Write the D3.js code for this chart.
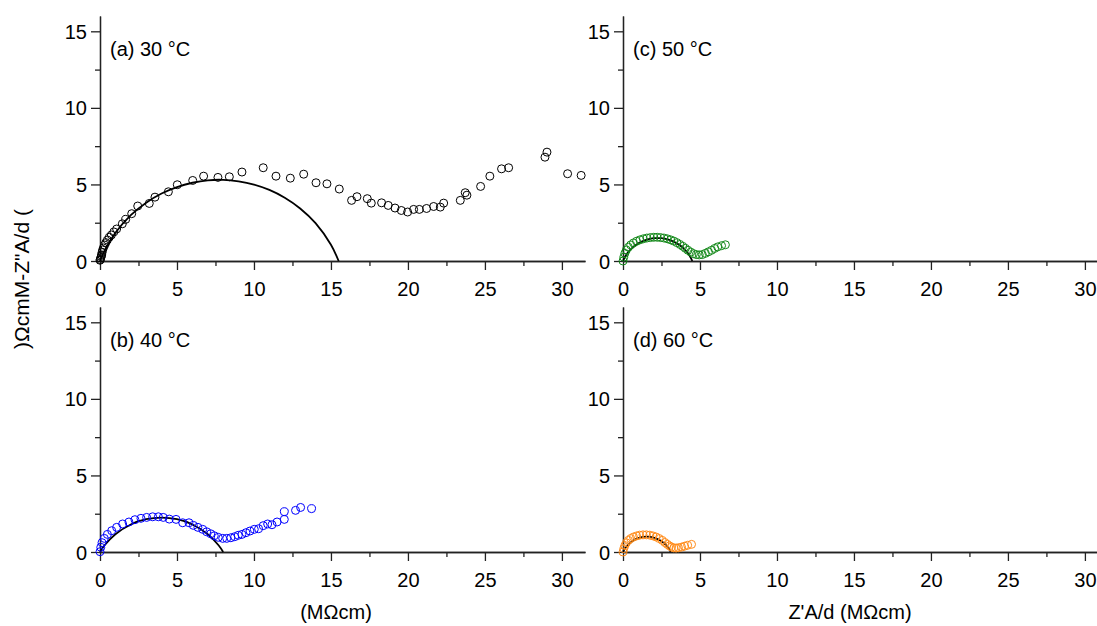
<!DOCTYPE html>
<html>
<head>
<meta charset="utf-8">
<script src="https://cdn.jsdelivr.net/npm/d3@7"></script>
<style>
  body { margin: 0; background: #fff; }
  text { font-family: "Liberation Sans", Arial, sans-serif; }
</style>
</head>
<body>
<svg id="chart" width="1097" height="626"></svg>
<script>
var data30 = [[0.0,0.05],[0.02,0.1],[0.05,0.2],[0.08,0.3],[0.11,0.39],[0.13,0.55],[0.17,0.72],[0.22,0.85],[0.3,1.04],[0.38,1.2],
  [0.48,1.37],[0.6,1.55],[0.74,1.7],[0.9,1.9],[1.08,2.09],[1.45,2.43],[1.67,2.72],[2.06,3.09],[2.45,3.59],[3.2,3.76],
  [3.57,4.17],[4.44,4.52],[5.02,4.98],[6.02,5.26],[6.73,5.54],[7.66,5.46],[8.4,5.5],[9.22,5.81],[10.6,6.09],[11.43,5.54],
  [12.36,5.41],[13.23,5.67],[14.03,5.11],[14.74,5.04],[15.54,4.7],[16.34,3.96],[16.69,4.2],[17.36,4.07],[17.62,3.78],
  [18.29,3.8],[18.72,3.63],[19.16,3.46],[19.57,3.3],[19.98,3.2],[20.37,3.37],[20.74,3.37],[21.21,3.43],[21.67,3.56],
  [22.1,3.52],[22.32,3.78],[23.4,3.96],[23.72,4.46],[23.83,4.3],[24.72,4.87],[25.32,5.54],[26.08,6.02],[26.54,6.09],
  [28.9,6.78],[29.03,7.11],[30.37,5.7],[31.25,5.59]];
var fit30 = [[0,0],[0.3,0.68],[1,1.84],[2,2.99],[3,3.81],[4,4.41],[5,4.83],[6,5.11],[7,5.27],[8,5.3],[9,5.2],
  [10,4.99],[11,4.64],[12,4.13],[13,3.43],[14,2.47],[15,1.06],[15.5,0]];

var data40 = [[0,0.02],[0.05,0.31],[0.13,0.61],[0.28,0.89],[0.48,1.15],[0.76,1.39],[1.08,1.61],[1.47,1.83],[1.88,1.96],
  [2.27,2.11],[2.66,2.2],[3.03,2.26],[3.42,2.3],[3.79,2.3],[4.11,2.26],[4.5,2.15],[4.94,2.13],[5.37,1.91],[5.78,1.91],
  [6.06,1.74],[6.36,1.61],[6.67,1.48],[6.93,1.32],[7.19,1.19],[7.42,1.06],[7.68,0.96],[7.97,0.89],[8.23,0.89],[8.5,0.93],
  [8.75,1.0],[8.98,1.09],[9.22,1.15],[9.48,1.26],[9.74,1.37],[10.02,1.48],[10.3,1.52],[10.6,1.72],[10.89,1.83],
  [11.17,1.78],[11.5,1.96],[11.97,2.13],[11.97,2.63],[12.7,2.72],[13.03,2.91],[13.74,2.83]];
var fit40 = [[0,0],[0.3,0.44],[1,1.16],[2,1.8],[3,2.14],[4,2.25],[5,2.14],[6,1.8],[7,1.16],[7.7,0.44],[8,0]];

var data50 = [[0,0],[0.05,0.25],[0.12,0.5],[0.22,0.72],[0.35,0.9],[0.5,1.05],[0.68,1.18],[0.88,1.29],[1.1,1.38],[1.32,1.45],
  [1.55,1.5],[1.78,1.53],[2.0,1.55],[2.22,1.55],[2.44,1.53],[2.66,1.5],[2.88,1.45],[3.1,1.38],[3.3,1.3],[3.5,1.2],
  [3.7,1.08],[3.88,0.96],[4.05,0.83],[4.22,0.7],[4.4,0.58],[4.58,0.48],[4.76,0.42],[4.95,0.4],[5.15,0.42],[5.35,0.5],
  [5.55,0.6],[5.75,0.7],[5.95,0.82],[6.15,0.92],[6.4,1.0],[6.65,1.06]];
var fit50 = [[0,0],[0.1,0.21],[0.3,0.53],[0.6,0.86],[1,1.15],[1.5,1.38],[2,1.49],[2.25,1.5],[2.5,1.49],[3,1.38],
  [3.5,1.15],[3.9,0.86],[4.2,0.53],[4.4,0.21],[4.5,0]];

var data60 = [[0,0],[0.05,0.22],[0.12,0.42],[0.22,0.6],[0.35,0.76],[0.5,0.88],[0.68,0.98],[0.88,1.05],[1.08,1.1],[1.3,1.12],
  [1.52,1.12],[1.74,1.1],[1.95,1.05],[2.15,0.98],[2.35,0.88],[2.55,0.76],[2.72,0.62],[2.88,0.5],[3.02,0.4],[3.15,0.32],
  [3.3,0.27],[3.45,0.26],[3.6,0.28],[3.8,0.32],[4.0,0.38],[4.2,0.44],[4.45,0.5]];
var fit60 = [[0,0],[0.1,0.19],[0.3,0.45],[0.6,0.71],[1,0.91],[1.55,1.0],[2.1,0.91],[2.5,0.71],[2.8,0.45],[3.0,0.19],[3.1,0]];

var xMajor = [0, 5, 10, 15, 20, 25, 30];
var xMinor = [2.5, 7.5, 12.5, 17.5, 22.5, 27.5];
var yMajor = [0, 5, 10, 15];
var yMinor = [2.5, 7.5, 12.5];

var panels = [
  {title: "(a) 30 \u00B0C", data: data30, fit: fit30, color: "#000000", left: 100, bottom: 261},
  {title: "(b) 40 \u00B0C", data: data40, fit: fit40, color: "#0000ff", left: 100, bottom: 552},
  {title: "(c) 50 \u00B0C", data: data50, fit: fit50, color: "#14891a", left: 623, bottom: 261},
  {title: "(d) 60 \u00B0C", data: data60, fit: fit60, color: "#ff8c1a", left: 623, bottom: 552}
];

var svg = d3.select("#chart");
var pw = 485, ph = 245;

panels.forEach(function(p) {
  var x = d3.scaleLinear().domain([0, 31.5]).range([p.left, p.left + pw]);
  var y = d3.scaleLinear().domain([0, 16]).range([p.bottom, p.bottom - ph]);
  var g = svg.append("g");

  // minor ticks first
  g.append("g").attr("transform", "translate(0," + p.bottom + ")")
    .call(d3.axisBottom(x).tickValues(xMinor).tickSize(5).tickFormat("").tickSizeOuter(0));
  g.append("g").attr("transform", "translate(" + p.left + ",0)")
    .call(d3.axisLeft(y).tickValues(yMinor).tickSize(5).tickFormat("").tickSizeOuter(0));

  var xa = g.append("g").attr("transform", "translate(0," + p.bottom + ")")
    .call(d3.axisBottom(x).tickValues(xMajor).tickSize(9).tickPadding(12).tickSizeOuter(0));
  var ya = g.append("g").attr("transform", "translate(" + p.left + ",0)")
    .call(d3.axisLeft(y).tickValues(yMajor).tickSize(9).tickPadding(4).tickSizeOuter(0));

  g.selectAll(".domain, .tick line").attr("stroke", "#222").attr("stroke-width", 1.3);
  g.selectAll(".tick text").attr("font-size", 20).attr("fill", "#000")
    .style("font-family", "'Liberation Sans', Arial, sans-serif");
  ya.selectAll(".tick text").attr("dy", "0.35em");

  g.append("text").attr("x", p.left + 10).attr("y", p.bottom - ph + 40)
    .attr("font-size", 20).text(p.title);

  g.append("path")
    .datum(p.fit)
    .attr("fill", "none").attr("stroke", "#000").attr("stroke-width", 1.8)
    .attr("d", d3.line().x(function(d) { return x(d[0]); }).y(function(d) { return y(d[1]); })
      .curve(d3.curveCatmullRom));

  g.selectAll("circle.pt").data(p.data).enter().append("circle")
    .attr("class", "pt")
    .attr("cx", function(d) { return x(d[0]); })
    .attr("cy", function(d) { return y(d[1]); })
    .attr("r", 4)
    .attr("fill", "none")
    .attr("stroke", p.color)
    .attr("stroke-width", 1);
});

// axis titles
svg.append("text").attr("transform", "translate(29,279) rotate(-90)")
  .attr("text-anchor", "middle").attr("font-size", 21).text(")\u03A9cmM-Z\"A/d (");
svg.append("text").attr("x", 336).attr("y", 619)
  .attr("text-anchor", "middle").attr("font-size", 20).text("(M\u03A9cm)");
svg.append("text").attr("x", 850).attr("y", 619)
  .attr("text-anchor", "middle").attr("font-size", 20).text("Z'A/d (M\u03A9cm)");
</script>
</body>
</html>
